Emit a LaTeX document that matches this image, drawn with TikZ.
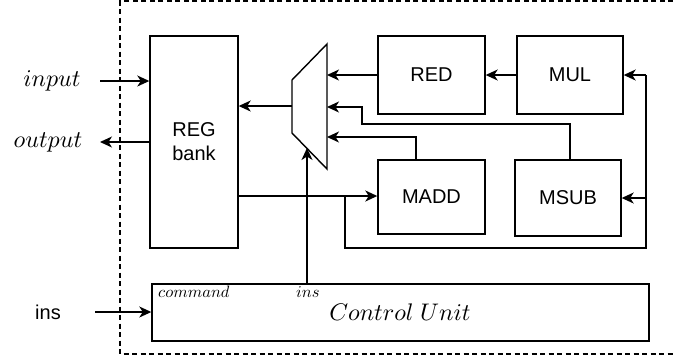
\documentclass[tikz,border=0pt]{standalone}
\usepackage{graphicx}
\usepackage{fontspec}
\setmainfont{Liberation Sans}
\usetikzlibrary{arrows.meta,calc}

\newcommand{\bigmath}[1]{\scalebox{2.4}{$#1$}}
\newcommand{\smallmath}[1]{\scalebox{1.65}{$#1$}}

\tikzset{
  blk/.style={draw, line width=1.4pt, inner sep=0pt, font=\fontsize{20}{24}\selectfont, align=center},
  wire/.style={line width=1.4pt},
  arr/.style={wire, -{Stealth[length=12pt,width=11pt,inset=3.5pt]}},
  tag/.style={inner sep=0pt, anchor=west}
}

\begin{document}
\begin{tikzpicture}[x=1pt, y=-1pt]
  \useasboundingbox (0,0) rectangle (673,360);

  % dashed outline of the unit
  \draw[line width=1.3pt, dash pattern=on 5pt off 3.5pt] (673,1) -- (120,1) -- (120,354) -- (673,354);

  % blocks
  \node[blk, minimum width=88pt, minimum height=212pt] (reg)  at (194,142)   {REG\\bank};
  \node[blk, minimum width=107pt, minimum height=78pt] (red)  at (431.5,75)  {RED};
  \node[blk, minimum width=106pt, minimum height=78pt] (mul)  at (570,75)    {MUL};
  \node[blk, minimum width=107pt, minimum height=74pt] (madd) at (431.5,197) {MADD};
  \node[blk, minimum width=106pt, minimum height=76pt] (msub) at (568,198)   {MSUB};
  \node[blk, minimum width=497pt, minimum height=57pt] (cu)   at (400.5,312.5) {};
  \node (cutxt) at (400,312) {\bigmath{Control\ Unit}};
  \node[tag] (cmd) at (158,292) {\smallmath{command}};
  \node[tag] (cins) at (296,292) {\smallmath{ins}};

  % multiplexer
  \coordinate (m1) at (292,80);
  \coordinate (m2) at (327,44);
  \coordinate (m3) at (327,169);
  \coordinate (m4) at (292,133);
  \draw[wire, line join=miter] (m1) -- (m2) -- (m3) -- (m4) -- cycle;
  \coordinate (mo)  at (292,106);
  \coordinate (mi1) at (327,75);
  \coordinate (mi2) at (327,107);
  \coordinate (mi3) at (327,137);
  \coordinate (mc)  at (307,148);

  % external ports
  \node (inp)  at (52,81)  {\bigmath{input}};
  \node (outp) at (48,142) {\bigmath{output}};
  \node[font=\fontsize{20}{24}\selectfont] (ins) at (48,312) {ins};
  \coordinate (inS)  at (100,81);
  \coordinate (outS) at (100,142);
  \coordinate (insS) at (95,312);

  \draw[arr] (inS) -- (inS -| reg.west);
  \draw[arr] (outS -| reg.west) -- (outS);
  \draw[arr] (insS) -- (insS -| cu.west);

  % datapath
  \draw[arr] (mo) -- (mo -| reg.east);
  \draw[arr] (red.west) -- (mi1);
  \draw[arr] (mul.west) -- (red.east);
  \draw[arr] (msub.north -| 570,0) -- (570,124) -- (362,124) -- (362,107) -- (mi2);
  \draw[arr] ([xshift=-15.5pt]madd.north) |- (mi3);
  \draw[arr, line width=1.9pt] (reg.east |- 0,196) -- (madd.west |- 0,196);

  % feedback to MUL and MSUB
  \coordinate (bx) at (345,196);
  \coordinate (rx) at (646,248);
  \draw[wire, line join=miter] (bx) |- (rx) -- (rx |- mul.east);
  \draw[arr] (rx |- mul.east) -- (mul.east);
  \draw[arr] (rx |- msub.east) -- (msub.east);

  % select line from control unit
  \draw[arr] (cu.north -| mc) -- (mc);
\end{tikzpicture}
\end{document}
